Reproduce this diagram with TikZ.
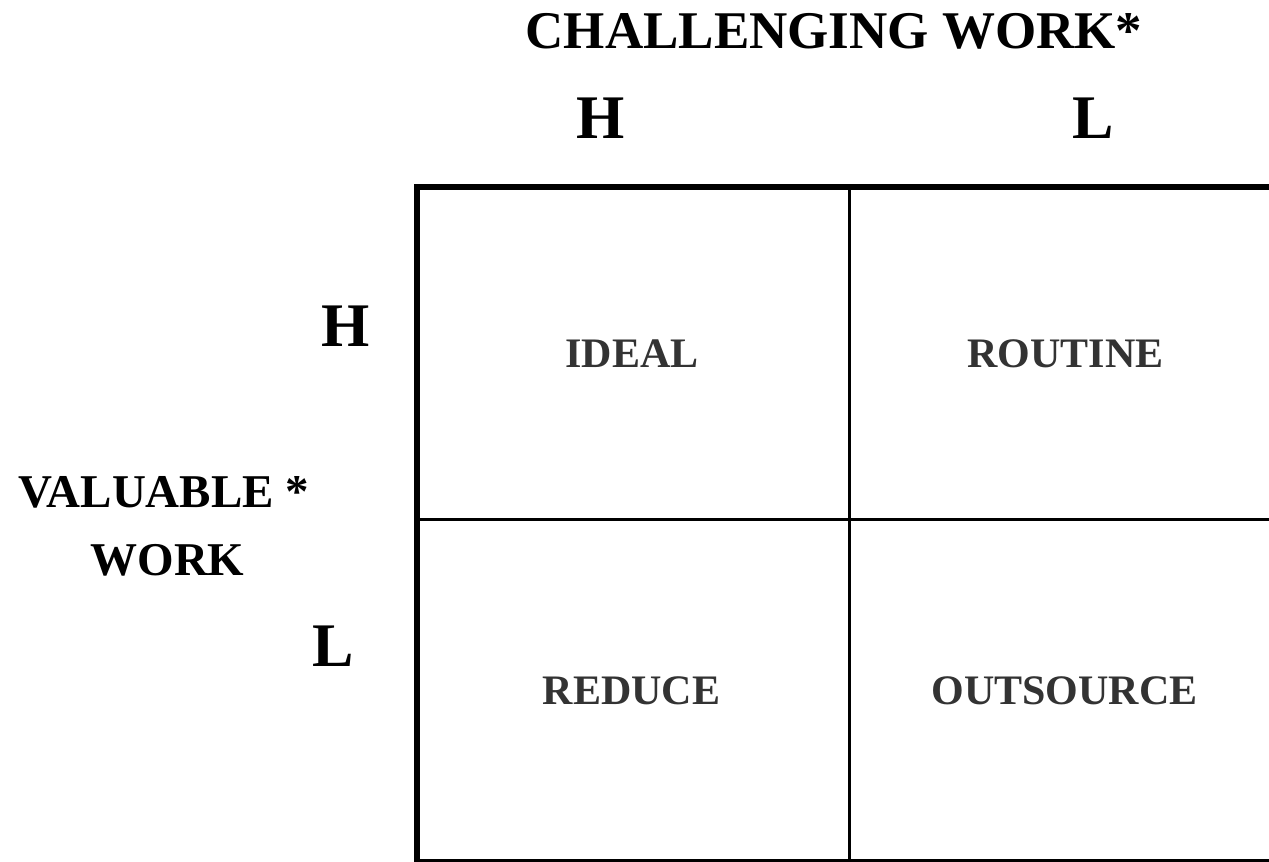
\documentclass[tikz,border=0pt]{standalone}
\usepackage{fontspec}
\setmainfont{Liberation Serif}
\begin{document}
\begin{tikzpicture}[x=1pt,y=-1pt,
  axistitle/.style={inner sep=0pt,anchor=base,font=\fontsize{53}{60}\selectfont\bfseries},
  level/.style={inner sep=0pt,anchor=base,font=\fontsize{62}{70}\selectfont\bfseries},
  sidetitle/.style={inner sep=0pt,anchor=base,font=\fontsize{47}{54}\selectfont\bfseries},
  celltext/.style={inner sep=0pt,anchor=base,text=cellgray,font=\fontsize{42}{48}\selectfont\bfseries},
  frame/.style={draw=black,line width=6pt},
  divider/.style={draw=black,line width=3pt}]
\definecolor{cellgray}{HTML}{333333}
\useasboundingbox (0,0) rectangle (1269,862);
\fill[white] (0,0) rectangle (1269,862);

% grid corners
\coordinate (tl) at (417,184);
\coordinate (tlh) at (414,186.5);
\coordinate (tr) at (1269,186.5);
\coordinate (bl) at (417,862);
\coordinate (blb) at (414,860.5);
\coordinate (br) at (1269,860.5);
\coordinate (vt) at (849,186.5);
\coordinate (vb) at (849,860.5);
\coordinate (hl) at (417,519);
\coordinate (hr) at (1269,519);

% inner dividers
\draw[divider] (vt) -- (vb);
\draw[divider] (hl) -- (hr);
% outer frame
\draw[frame] (tl) -- (bl);
\draw[frame] (tlh) -- (tr);
\draw[draw=black,line width=3pt] (blb) -- (br);

% axis headings
\node[axistitle] (chal) at (834,48) {CHALLENGING WORK*};
\node[level] (ch) at (600.5,138) {H};
\node[level] (cl) at (1093.5,138) {L};
\node[level] (vh) at (346,346) {H};
\node[level] (vl) at (333.5,666) {L};
\node[sidetitle] (val1) at (164,507) {VALUABLE *};
\node[sidetitle] (val2) at (167.5,575) {WORK};

% quadrant labels
\node[celltext] (ideal) at (632,367) {IDEAL};
\node[celltext] (routine) at (1065.5,367) {ROUTINE};
\node[celltext] (reduce) at (631.5,704) {REDUCE};
\node[celltext] (outsource) at (1064.5,704) {OUTSOURCE};
\end{tikzpicture}
\end{document}
